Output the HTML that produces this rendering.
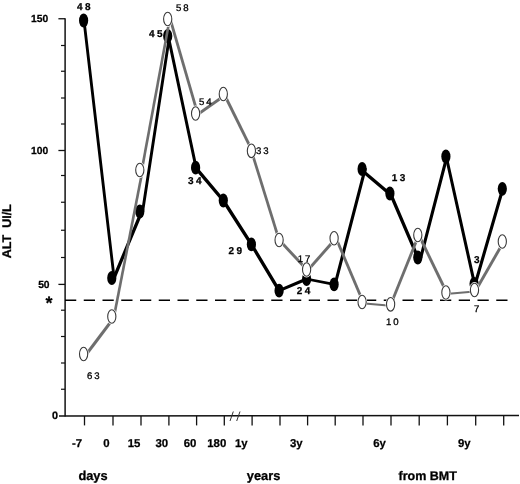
<!DOCTYPE html>
<html><head><meta charset="utf-8"><title>ALT chart</title>
<style>
html,body{margin:0;padding:0;background:#fff;}
svg{display:block;}
text{font-family:"Liberation Sans",sans-serif;fill:#000;text-rendering:geometricPrecision;}
.ax{font-size:10.3px;font-weight:bold;stroke:#000;stroke-width:0.25px;}
.lb{font-size:12.8px;font-weight:bold;stroke:#000;stroke-width:0.3px;}
.nb{font-size:10px;font-weight:bold;letter-spacing:2.4px;stroke:#000;stroke-width:0.25px;}
.nr{font-size:9.6px;letter-spacing:1.9px;stroke:#000;stroke-width:0.3px;}
</style></head><body>
<svg width="520" height="484" viewBox="0 0 520 484">
<rect width="520" height="484" fill="#fff"/>

<g stroke="#111" fill="none">
<line x1="65.1" y1="18.2" x2="65.1" y2="416.5" stroke="#000" stroke-width="1.4"/>
<line x1="59" y1="416" x2="519" y2="415.4" stroke-width="1.5"/>
<line x1="61" y1="389.25" x2="65" y2="389.25" stroke-width="1.2"/>
<line x1="61" y1="363.00" x2="65" y2="363.00" stroke-width="1.2"/>
<line x1="61" y1="336.50" x2="65" y2="336.50" stroke-width="1.2"/>
<line x1="61" y1="310.20" x2="65" y2="310.20" stroke-width="1.2"/>
<line x1="58.4" y1="284.40" x2="65" y2="284.40" stroke-width="1.3"/>
<line x1="61" y1="257.50" x2="65" y2="257.50" stroke-width="1.2"/>
<line x1="61" y1="230.25" x2="65" y2="230.25" stroke-width="1.2"/>
<line x1="61" y1="202.25" x2="65" y2="202.25" stroke-width="1.2"/>
<line x1="61" y1="175.50" x2="65" y2="175.50" stroke-width="1.2"/>
<line x1="58.4" y1="150.50" x2="65" y2="150.50" stroke-width="1.3"/>
<line x1="61" y1="124.00" x2="65" y2="124.00" stroke-width="1.2"/>
<line x1="61" y1="98.00" x2="65" y2="98.00" stroke-width="1.2"/>
<line x1="61" y1="71.25" x2="65" y2="71.25" stroke-width="1.2"/>
<line x1="61" y1="45.50" x2="65" y2="45.50" stroke-width="1.2"/>
<line x1="58.4" y1="18.75" x2="65" y2="18.75" stroke-width="1.3"/>
<line x1="84.50" y1="416" x2="84.50" y2="425.4" stroke-width="1.3"/>
<line x1="113.00" y1="416" x2="113.00" y2="425.4" stroke-width="1.3"/>
<line x1="141.00" y1="416" x2="141.00" y2="425.4" stroke-width="1.3"/>
<line x1="168.90" y1="416" x2="168.90" y2="425.4" stroke-width="1.3"/>
<line x1="196.60" y1="416" x2="196.60" y2="425.4" stroke-width="1.3"/>
<line x1="224.30" y1="416" x2="224.30" y2="425.4" stroke-width="1.3"/>
<line x1="252.10" y1="416" x2="252.10" y2="425.4" stroke-width="1.3"/>
<line x1="280.00" y1="416" x2="280.00" y2="425.4" stroke-width="1.3"/>
<line x1="307.60" y1="416" x2="307.60" y2="425.4" stroke-width="1.3"/>
<line x1="335.20" y1="416" x2="335.20" y2="425.4" stroke-width="1.3"/>
<line x1="363.00" y1="416" x2="363.00" y2="425.4" stroke-width="1.3"/>
<line x1="391.00" y1="416" x2="391.00" y2="425.4" stroke-width="1.3"/>
<line x1="419.20" y1="416" x2="419.20" y2="425.4" stroke-width="1.3"/>
<line x1="447.40" y1="416" x2="447.40" y2="425.4" stroke-width="1.3"/>
<line x1="475.70" y1="416" x2="475.70" y2="425.4" stroke-width="1.3"/>
<line x1="503.70" y1="416" x2="503.70" y2="425.4" stroke-width="1.3"/>
</g>
<g stroke="#333" stroke-width="1"><line x1="230" y1="421" x2="233.3" y2="411.5"/><line x1="236.7" y1="421" x2="240" y2="411.5"/></g>
<line x1="65" y1="300.2" x2="508" y2="300.2" stroke="#000" stroke-width="1.5" stroke-dasharray="11.25 7.5"/>
<line x1="84.00" y1="20.50" x2="114.10" y2="278.00" stroke="#000" stroke-width="2.84" stroke-linecap="round"/>
<line x1="114.80" y1="276.00" x2="141.50" y2="212.00" stroke="#000" stroke-width="3.25" stroke-linecap="round"/>
<line x1="142.60" y1="211.50" x2="169.50" y2="36.00" stroke="#000" stroke-width="2.90" stroke-linecap="round"/>
<line x1="168.20" y1="36.00" x2="196.10" y2="167.70" stroke="#000" stroke-width="3.00" stroke-linecap="round"/>
<line x1="195.60" y1="167.70" x2="223.30" y2="200.50" stroke="#000" stroke-width="3.41" stroke-linecap="round"/>
<line x1="223.30" y1="200.50" x2="251.40" y2="244.40" stroke="#000" stroke-width="3.38" stroke-linecap="round"/>
<line x1="251.40" y1="244.40" x2="279.10" y2="290.70" stroke="#000" stroke-width="3.36" stroke-linecap="round"/>
<line x1="279.10" y1="290.70" x2="306.60" y2="279.00" stroke="#000" stroke-width="3.04" stroke-linecap="round"/>
<line x1="306.60" y1="279.00" x2="334.10" y2="284.40" stroke="#000" stroke-width="2.66" stroke-linecap="round"/>
<line x1="335.10" y1="284.40" x2="365.10" y2="169.00" stroke="#000" stroke-width="3.07" stroke-linecap="round"/>
<line x1="362.10" y1="170.50" x2="389.90" y2="194.00" stroke="#000" stroke-width="3.36" stroke-linecap="round"/>
<line x1="390.40" y1="193.50" x2="417.80" y2="257.50" stroke="#000" stroke-width="3.26" stroke-linecap="round"/>
<line x1="420.80" y1="257.50" x2="446.90" y2="156.50" stroke="#000" stroke-width="3.07" stroke-linecap="round"/>
<line x1="446.20" y1="156.50" x2="474.50" y2="283.80" stroke="#000" stroke-width="3.02" stroke-linecap="round"/>
<line x1="475.30" y1="283.80" x2="502.80" y2="188.80" stroke="#000" stroke-width="3.11" stroke-linecap="round"/>
<ellipse cx="83.60" cy="20.50" rx="4.6" ry="6.9" fill="#000"/>
<ellipse cx="111.80" cy="278.00" rx="4.6" ry="6.9" fill="#000"/>
<ellipse cx="139.80" cy="211.50" rx="4.6" ry="6.9" fill="#000"/>
<ellipse cx="167.70" cy="36.00" rx="4.6" ry="6.9" fill="#000"/>
<ellipse cx="195.60" cy="167.70" rx="4.6" ry="6.9" fill="#000"/>
<ellipse cx="223.30" cy="200.50" rx="4.6" ry="6.9" fill="#000"/>
<ellipse cx="251.40" cy="244.40" rx="4.6" ry="6.9" fill="#000"/>
<ellipse cx="279.10" cy="290.70" rx="4.6" ry="6.9" fill="#000"/>
<ellipse cx="306.60" cy="279.00" rx="4.6" ry="6.9" fill="#000"/>
<ellipse cx="334.10" cy="284.40" rx="4.6" ry="6.9" fill="#000"/>
<ellipse cx="362.10" cy="169.00" rx="4.6" ry="6.9" fill="#000"/>
<ellipse cx="389.90" cy="193.50" rx="4.6" ry="6.9" fill="#000"/>
<ellipse cx="417.80" cy="257.50" rx="4.6" ry="6.9" fill="#000"/>
<ellipse cx="445.90" cy="156.50" rx="4.6" ry="6.9" fill="#000"/>
<ellipse cx="474.10" cy="283.80" rx="4.6" ry="6.9" fill="#000"/>
<ellipse cx="502.30" cy="188.80" rx="4.6" ry="6.9" fill="#000"/>
<line x1="86.60" y1="354.00" x2="114.80" y2="316.50" stroke="#6e6e6e" stroke-width="2.93"/>
<line x1="114.00" y1="316.50" x2="142.60" y2="170.00" stroke="#6e6e6e" stroke-width="2.64"/>
<line x1="141.80" y1="170.00" x2="169.70" y2="19.00" stroke="#6e6e6e" stroke-width="2.63"/>
<line x1="170.20" y1="19.00" x2="197.60" y2="113.50" stroke="#6e6e6e" stroke-width="2.74"/>
<line x1="197.60" y1="114.50" x2="225.30" y2="95.00" stroke="#6e6e6e" stroke-width="2.78"/>
<line x1="224.10" y1="94.00" x2="252.20" y2="150.80" stroke="#6e6e6e" stroke-width="2.88"/>
<line x1="251.40" y1="150.80" x2="279.10" y2="240.00" stroke="#6e6e6e" stroke-width="2.76"/>
<line x1="280.60" y1="241.50" x2="308.10" y2="271.00" stroke="#6e6e6e" stroke-width="2.91"/>
<line x1="307.60" y1="270.50" x2="335.10" y2="239.25" stroke="#6e6e6e" stroke-width="2.92"/>
<line x1="336.10" y1="238.25" x2="363.10" y2="302.00" stroke="#6e6e6e" stroke-width="2.85"/>
<line x1="362.10" y1="303.20" x2="390.60" y2="305.80" stroke="#6e6e6e" stroke-width="1.96"/>
<line x1="390.90" y1="304.30" x2="418.80" y2="235.00" stroke="#6e6e6e" stroke-width="2.83"/>
<line x1="418.80" y1="235.00" x2="446.60" y2="292.50" stroke="#6e6e6e" stroke-width="2.88"/>
<line x1="445.90" y1="294.00" x2="474.50" y2="291.50" stroke="#6e6e6e" stroke-width="1.95"/>
<line x1="475.70" y1="290.50" x2="503.50" y2="242.00" stroke="#6e6e6e" stroke-width="2.91"/>
<ellipse cx="83.60" cy="354.00" rx="5.1" ry="8" fill="#fff"/>
<ellipse cx="83.60" cy="354.00" rx="4.1" ry="6.8" fill="#fff" stroke="#3a3a3a" stroke-width="1.1"/>
<ellipse cx="111.80" cy="316.50" rx="5.1" ry="8" fill="#fff"/>
<ellipse cx="111.80" cy="316.50" rx="4.1" ry="6.8" fill="#fff" stroke="#3a3a3a" stroke-width="1.1"/>
<ellipse cx="139.80" cy="170.00" rx="5.1" ry="8" fill="#fff"/>
<ellipse cx="139.80" cy="170.00" rx="4.1" ry="6.8" fill="#fff" stroke="#3a3a3a" stroke-width="1.1"/>
<ellipse cx="167.70" cy="19.00" rx="5.1" ry="8" fill="#fff"/>
<ellipse cx="167.70" cy="19.00" rx="4.1" ry="6.8" fill="#fff" stroke="#3a3a3a" stroke-width="1.1"/>
<ellipse cx="195.60" cy="113.50" rx="5.1" ry="8" fill="#fff"/>
<ellipse cx="195.60" cy="113.50" rx="4.1" ry="6.8" fill="#fff" stroke="#3a3a3a" stroke-width="1.1"/>
<ellipse cx="223.30" cy="94.00" rx="5.1" ry="8" fill="#fff"/>
<ellipse cx="223.30" cy="94.00" rx="4.1" ry="6.8" fill="#fff" stroke="#3a3a3a" stroke-width="1.1"/>
<ellipse cx="251.40" cy="150.80" rx="5.1" ry="8" fill="#fff"/>
<ellipse cx="251.40" cy="150.80" rx="4.1" ry="6.8" fill="#fff" stroke="#3a3a3a" stroke-width="1.1"/>
<ellipse cx="279.10" cy="240.00" rx="5.1" ry="8" fill="#fff"/>
<ellipse cx="279.10" cy="240.00" rx="4.1" ry="6.8" fill="#fff" stroke="#3a3a3a" stroke-width="1.1"/>
<ellipse cx="306.60" cy="269.50" rx="5.1" ry="8" fill="#fff"/>
<ellipse cx="306.60" cy="269.50" rx="4.1" ry="6.8" fill="#fff" stroke="#3a3a3a" stroke-width="1.1"/>
<ellipse cx="334.10" cy="238.25" rx="5.1" ry="8" fill="#fff"/>
<ellipse cx="334.10" cy="238.25" rx="4.1" ry="6.8" fill="#fff" stroke="#3a3a3a" stroke-width="1.1"/>
<ellipse cx="362.10" cy="302.00" rx="5.1" ry="8" fill="#fff"/>
<ellipse cx="362.10" cy="302.00" rx="4.1" ry="6.8" fill="#fff" stroke="#3a3a3a" stroke-width="1.1"/>
<ellipse cx="390.60" cy="304.30" rx="5.1" ry="8" fill="#fff"/>
<ellipse cx="390.60" cy="304.30" rx="4.1" ry="6.8" fill="#fff" stroke="#3a3a3a" stroke-width="1.1"/>
<ellipse cx="417.80" cy="235.00" rx="5.1" ry="8" fill="#fff"/>
<ellipse cx="417.80" cy="235.00" rx="4.1" ry="6.8" fill="#fff" stroke="#3a3a3a" stroke-width="1.1"/>
<ellipse cx="445.90" cy="292.50" rx="5.1" ry="8" fill="#fff"/>
<ellipse cx="445.90" cy="292.50" rx="4.1" ry="6.8" fill="#fff" stroke="#3a3a3a" stroke-width="1.1"/>
<ellipse cx="474.50" cy="290.00" rx="5.1" ry="8" fill="#fff"/>
<ellipse cx="474.50" cy="290.00" rx="4.1" ry="6.8" fill="#fff" stroke="#3a3a3a" stroke-width="1.1"/>
<ellipse cx="502.30" cy="241.50" rx="5.1" ry="8" fill="#fff"/>
<ellipse cx="502.30" cy="241.50" rx="4.1" ry="6.8" fill="#fff" stroke="#3a3a3a" stroke-width="1.1"/>
<text class="ax" x="48.2" y="22.4" text-anchor="end">150</text>
<text class="ax" x="48.2" y="154.2" text-anchor="end">100</text>
<text class="ax" x="49.6" y="288.3" text-anchor="end">50</text>
<text class="ax" style="font-size:10.8px" x="58" y="419" text-anchor="end">0</text>
<text class="ax" x="49.1" y="309.3" text-anchor="middle" style="font-size:18px">*</text>
<text class="lb" transform="translate(11.4,231.2) rotate(-90)" text-anchor="middle" style="font-size:12.5px">ALT&#160;&#160;UI/L</text>
<text class="ax" style="font-size:11.4px" x="77" y="446.6" text-anchor="middle">-7</text>
<text class="ax" style="font-size:11.4px" x="106.3" y="446.6" text-anchor="middle">0</text>
<text class="ax" style="font-size:11.4px" x="134" y="446.6" text-anchor="middle">15</text>
<text class="ax" style="font-size:11.4px" x="161.75" y="446.6" text-anchor="middle">30</text>
<text class="ax" style="font-size:11.4px" x="190" y="446.6" text-anchor="middle">60</text>
<text class="ax" style="font-size:11.4px" x="216.75" y="446.6" text-anchor="middle">180</text>
<text class="ax" style="font-size:11.4px" x="241.25" y="446.6" text-anchor="middle">1y</text>
<text class="ax" style="font-size:11.4px" x="296.25" y="446.6" text-anchor="middle">3y</text>
<text class="ax" style="font-size:11.4px" x="379.5" y="446.6" text-anchor="middle">6y</text>
<text class="ax" style="font-size:11.4px" x="464.25" y="446.6" text-anchor="middle">9y</text>
<text class="lb" x="93" y="479.9" text-anchor="middle">days</text>
<text class="lb" x="280.3" y="479.9" text-anchor="end">years</text>
<text class="lb" style="font-size:12.5px" x="398.6" y="479.8">from BMT</text>
<text class="nb" x="77" y="10.2">48</text>
<text class="nr" x="176" y="10.8">58</text>
<text class="nb" x="149" y="36.5">45</text>
<text class="nr" x="199" y="104.5">54</text>
<text class="nb" x="188" y="183.5">34</text>
<text class="nr" x="256" y="153.8">33</text>
<text class="nb" x="228.5" y="253.5">29</text>
<text class="nr" x="297.7" y="262">17</text>
<text class="nb" x="296.7" y="293.5">24</text>
<text class="nb" x="391.8" y="180.7">13</text>
<text class="nr" x="386" y="325">10</text>
<text class="nb" x="474" y="262.5">3</text>
<text class="nr" x="474" y="312">7</text>
<text class="nr" x="87" y="378.5">63</text>
</svg></body></html>
